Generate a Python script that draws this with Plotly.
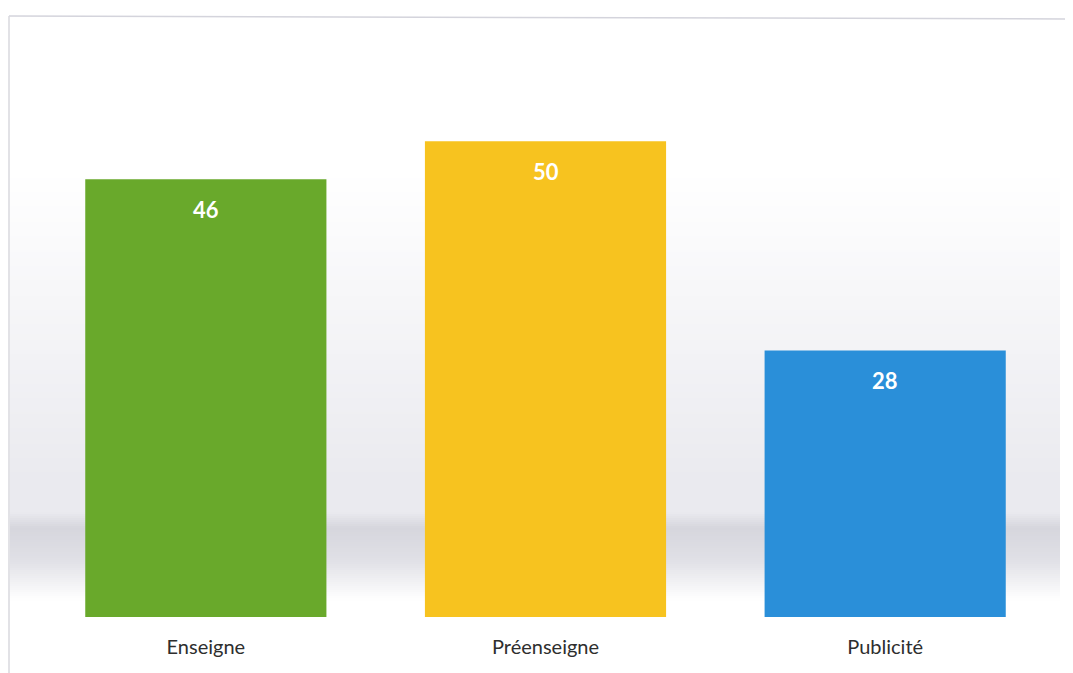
import plotly.graph_objects as go

categories = ["Enseigne", "Préenseigne", "Publicité"]
values = [46, 50, 28]
bar_colors = ["#69a92b", "#f7c31f", "#2a8fd9"]

W, H = 1073, 673
OFF = 8  # page body offset
ML, MR, MT, MB = 36 - OFF, 26, 46 - OFF, 64
plot_h = H - MT - MB
plot_w = W - ML - MR

fig = go.Figure()
fig.add_trace(go.Bar(
    x=categories, y=values,
    marker=dict(color=bar_colors, line=dict(width=0)),
    width=0.71, hoverinfo="x+y",
))

for c, v in zip(categories, values):
    fig.add_annotation(x=c, y=v, text=f"<b>{v}</b>", showarrow=False,
                       yshift=-30, font=dict(family="Lato, Open Sans, sans-serif", size=22, color="white"))

def py2p(py):  # screen pixel y -> paper
    return (H - MB - (py - OFF)) / plot_h

def px2p(px):  # screen pixel x -> paper
    return (px - OFF - ML) / plot_w

shapes = []
def lerp(a, b, t):
    return tuple(int(round(a[i] + (b[i] - a[i]) * t)) for i in range(3))
white = (255, 255, 255)
grey = (234, 234, 239)
dark = (214, 214, 221)
stops = [(170, white), (480, grey), (512, grey), (528, dark), (560, (224, 224, 230)), (600, white)]
for (y0, c0), (y1, c1) in zip(stops[:-1], stops[1:]):
    n = max(1, (y1 - y0) // 2)
    for k in range(n):
        ya = y0 + (y1 - y0) * k / n
        yb = y0 + (y1 - y0) * (k + 1) / n + 0.6
        col = lerp(c0, c1, (k + 0.5) / n)
        shapes.append(dict(type="rect", xref="paper", yref="paper",
                           x0=px2p(10), x1=px2p(1060),
                           y0=py2p(yb), y1=py2p(ya),
                           fillcolor="rgb(%d,%d,%d)" % col, line=dict(width=0), layer="below"))

shapes.append(dict(type="line", xref="paper", yref="paper",
                   x0=px2p(9), x1=px2p(1080), y0=py2p(16), y1=py2p(19),
                   line=dict(color="#d4d4dc", width=1.5)))
shapes.append(dict(type="line", xref="paper", yref="paper",
                   x0=px2p(9), x1=px2p(9), y0=py2p(16), y1=py2p(690),
                   line=dict(color="#d8d8de", width=1.5)))

fig.update_layout(
    width=W, height=H,
    margin=dict(l=ML, r=MR, t=MT, b=MB),
    paper_bgcolor="white", plot_bgcolor="rgba(0,0,0,0)",
    showlegend=False,
    shapes=shapes,
    xaxis=dict(showgrid=False, showline=False, zeroline=False, ticks="",
               tickfont=dict(family="Lato, Open Sans, sans-serif", size=20, color="#2e2e2e"),
               ticklabelstandoff=16),
    yaxis=dict(range=[0, 60], visible=False),
    font=dict(family="Lato, Open Sans, sans-serif"),
)

fig.write_html("out.html")
